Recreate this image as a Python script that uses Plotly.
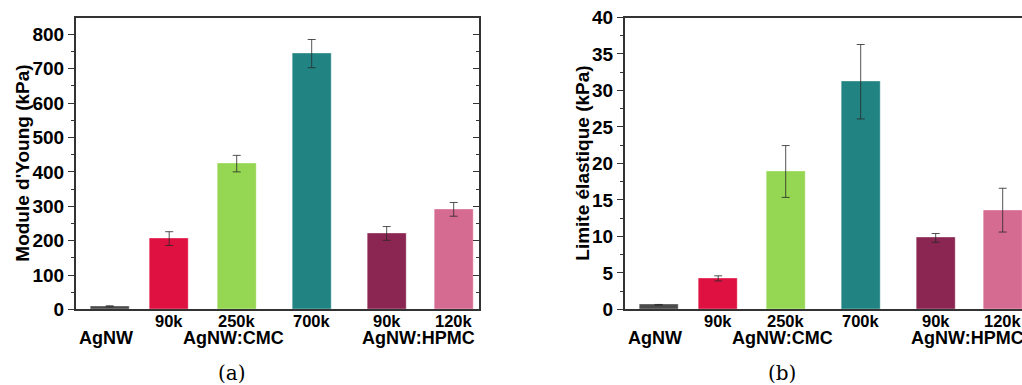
import plotly.graph_objects as go

# ---- data ----
bar_labels = ["", "90k", "250k", "700k", "90k", "120k"]
groups = ["AgNW", "AgNW:CMC", "AgNW:HPMC"]
young_modulus = [9, 206, 424, 744, 221, 291]
young_err = [1.5, 20, 24, 41, 20, 20]
yield_limit = [0.63, 4.25, 18.9, 31.2, 9.8, 13.6]
yield_err = [0.05, 0.35, 3.55, 5.1, 0.6, 3.0]
colors = ["#4b4b4b", "#df1140", "#95d652", "#218483", "#8a2651", "#d66b92"]

# ---- layout constants ----
W, H = 1022, 385
xpos = [34, 93.5, 161, 236, 311, 378]
group_x = [30, 157.5, 342.5]
bar_w = 39
plot_top, plot_bot = 17.5, 309.4
LFONT = "Liberation Sans"


def fx(px):
    return px / W


def fy(py):
    return (H - py) / H


left_dom = [fx(75.7), fx(479)]
right_dom = [fx(624.7), 1.0]
ydom = [fy(plot_bot), fy(plot_top)]

fig = go.Figure()

for xa, ya, vals, errs in [("x", "y", young_modulus, young_err),
                           ("x2", "y2", yield_limit, yield_err)]:
    fig.add_trace(go.Bar(
        x=xpos, y=vals, width=bar_w, xaxis=xa, yaxis=ya,
        marker=dict(color=colors, line=dict(color="rgba(255,255,255,0.35)", width=1)),
        error_y=dict(type="data", array=errs, visible=True, color="rgba(40,40,40,0.8)",
                     thickness=1, width=4),
        showlegend=False,
    ))

yfont = dict(family=LFONT, size=19, color="black", weight="bold")
xfont = dict(family=LFONT, size=16.5, color="black", weight="bold")
gfont = dict(family=LFONT, size=18, color="black", weight="bold")

xcommon = dict(tickmode="array", tickvals=xpos, ticktext=[""] * len(xpos), ticks="",
               showline=True, linecolor="#333", linewidth=1.5, mirror=True,
               showgrid=False, zeroline=False, fixedrange=True, automargin=False)

ycommon = dict(ticks="outside", ticklen=6, tickwidth=1.2, tickcolor="#333",
               showline=True, linecolor="#333", linewidth=1.5, showgrid=False,
               zeroline=False, tickfont=yfont, automargin=False)

fig.update_layout(
    width=W, height=H, autosize=False,
    margin=dict(l=0, r=0, t=0, b=0, autoexpand=False),
    paper_bgcolor="white", plot_bgcolor="white",
    bargap=0,
    xaxis=dict(domain=left_dom, range=[0, 403.3], anchor="y", **xcommon),
    xaxis2=dict(domain=right_dom, range=[0, 397.3], anchor="y2", **xcommon),
    yaxis=dict(domain=ydom, range=[0, 849], anchor="x", dtick=100,
               minor=dict(dtick=50, ticks="outside", ticklen=3, tickcolor="#333", tickwidth=1.2),
               **ycommon),
    yaxis3=dict(domain=ydom, range=[0, 849], overlaying="y", side="right", anchor="x",
                dtick=100, ticks="inside", ticklen=6, tickwidth=1.2, tickcolor="#333",
                minor=dict(dtick=50, ticks="inside", ticklen=3, tickcolor="#333", tickwidth=1.2),
                showticklabels=False, showline=True, linecolor="#333", linewidth=1.5,
                showgrid=False, zeroline=False, automargin=False),
    yaxis2=dict(domain=ydom, range=[0, 40], anchor="x2", dtick=5,
                minor=dict(dtick=2.5, ticks="outside", ticklen=3, tickcolor="#333", tickwidth=1.2),
                **ycommon),
)

# dummy trace to activate yaxis3
fig.add_trace(go.Scatter(x=[None], y=[None], xaxis="x", yaxis="y3", showlegend=False,
                         hoverinfo="skip"))

for xa in ["x", "x2"]:
    # bar labels (first row)
    for bx, lab in zip(xpos, bar_labels):
        if lab:
            fig.add_annotation(x=bx, y=fy(320.5), xref=xa, yref="paper", text=lab,
                               showarrow=False, xanchor="center", yanchor="middle",
                               font=xfont, borderpad=0)
    # group labels (second row)
    for gx, g in zip(group_x, groups):
        fig.add_annotation(x=gx, y=fy(337.5), xref=xa, yref="paper", text=g,
                           showarrow=False, xanchor="center", yanchor="middle",
                           font=gfont, borderpad=0)

# axis titles
fig.add_annotation(x=fx(21.7), y=fy(163), xref="paper", yref="paper",
                   text="Module d'Young (kPa)", textangle=-90, showarrow=False,
                   font=yfont, xanchor="center", yanchor="middle")
fig.add_annotation(x=fx(581.7), y=fy(163), xref="paper", yref="paper",
                   text="Limite élastique (kPa)", textangle=-90, showarrow=False,
                   font=yfont, xanchor="center", yanchor="middle")

# captions
capfont = dict(family="DejaVu Serif", size=20, color="black")
fig.add_annotation(x=fx(232), y=fy(373), xref="paper", yref="paper", text="(a)",
                   showarrow=False, font=capfont, xanchor="center", yanchor="middle")
fig.add_annotation(x=fx(782), y=fy(373), xref="paper", yref="paper", text="(b)",
                   showarrow=False, font=capfont, xanchor="center", yanchor="middle")

fig.write_html("out.html", config={"responsive": False, "displayModeBar": False},
               post_script="document.body.style.margin='0';document.body.style.overflow='hidden';")
